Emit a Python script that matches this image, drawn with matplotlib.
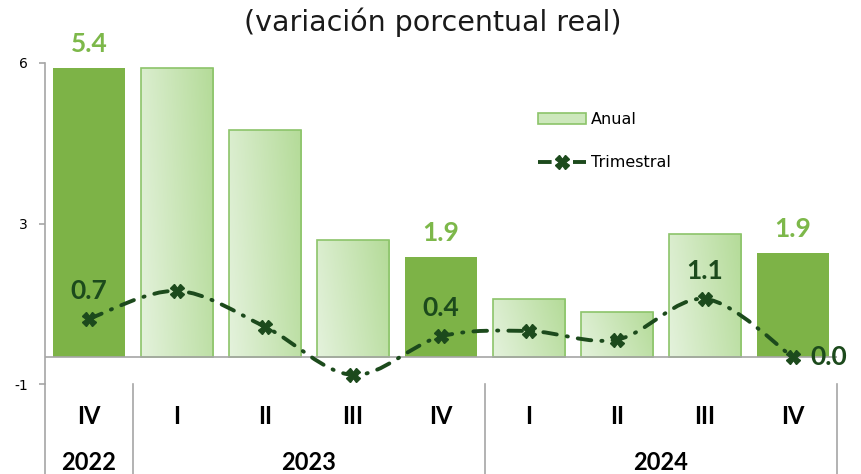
import numpy as np
import matplotlib
matplotlib.use('Agg')
import matplotlib.pyplot as plt
from matplotlib.path import Path
from matplotlib.patches import PathPatch, Patch
from matplotlib.lines import Line2D

plt.rcParams['font.family'] = ['Lato', 'DejaVu Sans']

# datos
trimestres = ['IV', 'I', 'II', 'III', 'IV', 'I', 'II', 'III', 'IV']
anios = ['2022', '2023', '2024']
trim_por_anio = [1, 4, 4]
anual = [5.4, 5.4, 4.24, 2.2, 1.87, 1.09, 0.85, 2.31, 1.94]
trimestral = [0.72, 1.24, 0.57, -0.33, 0.39, 0.49, 0.33, 1.09, 0.0]
destacar = [0, 4, 8]           # barras de color solido con etiqueta
etiq_trim = [0, 4, 7, 8]       # puntos de la linea con etiqueta

verde = '#7DB347'
verde_txt = '#7DB84A'
verde_osc = '#1C4A1C'
borde = '#8CC46A'
gris = '#A6A6A6'
estilo = (0, (3.5, 2.6, 0.3, 2.6))

fig = plt.figure(figsize=(8.62, 4.74), dpi=100)
ax = fig.add_axes([45/862, 1-384/474, 792/862, 321/474])
x = np.arange(len(trimestres))
ancho = 0.82
px = 321 / 6  # pixeles por unidad del eje y

# gradiente para las barras claras
gx, gy = np.meshgrid(np.linspace(0, 1, 64), np.linspace(0, 1, 64))
grad = 0.8*gx + 0.2*gy
cmap = matplotlib.colors.LinearSegmentedColormap.from_list('g', ['#E4F2DC', '#B4DB98'])

barras = ax.bar(x, anual, width=ancho, color=verde, zorder=2)
for i, b in enumerate(barras):
    if i in destacar:
        continue
    b.set_facecolor('none')
    b.set_edgecolor(borde)
    b.set_linewidth(1.2)
    x0 = b.get_x()
    h = b.get_height()
    im = ax.imshow(grad, cmap=cmap, origin='lower', aspect='auto',
                   extent=[x0, x0 + ancho, 0, h], zorder=1.5)
    im.set_clip_path(b)

ax.set_xlim(-0.5, len(trimestres) - 0.5)
ax.set_ylim(-0.5, 5.5)

# linea suavizada (catmull-rom a bezier)
pts = np.column_stack([x, trimestral]).astype(float)
verts = [pts[0]]
codes = [Path.MOVETO]
n = len(pts)
for i in range(n - 1):
    p0 = pts[max(i - 1, 0)]
    p1 = pts[i]
    p2 = pts[i + 1]
    p3 = pts[min(i + 2, n - 1)]
    c1 = p1 + (p2 - p0) / 6
    c2 = p2 - (p3 - p1) / 6
    verts += [c1, c2, p2]
    codes += [Path.CURVE4] * 3
linea = PathPatch(Path(verts, codes), facecolor='none', edgecolor=verde_osc,
                  lw=2.8, linestyle=estilo, capstyle='round', zorder=3)
ax.add_patch(linea)
ax.plot(x, trimestral, ls='none', marker='X', ms=10, color=verde_osc,
        mec=verde_osc, zorder=4)

# etiquetas
for i in destacar:
    ax.text(x[i], anual[i] + 24/px, f'{anual[i]:.1f}', ha='center', va='center',
            fontsize=19, fontweight='bold', color=verde_txt)
for i in etiq_trim:
    if i == len(trimestres) - 1:
        ax.text(x[i] + 0.2, trimestral[i], f'{trimestral[i]:.1f}', ha='left',
                va='center', fontsize=19, fontweight='bold', color=verde_osc)
    else:
        ax.text(x[i], trimestral[i] + 28/px, f'{trimestral[i]:.1f}', ha='center',
                va='center', fontsize=19, fontweight='bold', color=verde_osc)

# ejes
for s in ['top', 'right', 'bottom']:
    ax.spines[s].set_visible(False)
ax.spines['left'].set_color(gris)
ax.spines['left'].set_linewidth(1.2)
ax.axhline(0, color=gris, lw=1.2, zorder=2.5)
ax.set_yticks([-0.5, 2.5, 5.5])
ax.set_yticklabels(['-1', '3', '6'], fontsize=10, family='DejaVu Sans')
ax.tick_params(axis='y', color=gris, length=4.5, width=1.2, pad=8)
ax.set_xticks([])

# eje de categorias en dos niveles
baja = -(474 - 384) / 321
ax.plot([0, 0], [0, baja], transform=ax.transAxes, color=gris, lw=1.2, clip_on=False)
inicio = 0
for anio, k in zip(anios, trim_por_anio):
    fin = inicio + k
    centro = (inicio + fin - 1) / 2
    ax.text(centro, -0.5 - 78/px, anio, ha='center', va='center',
            fontsize=17, fontweight='bold')
    xs = fin / len(trimestres)
    ax.plot([xs, xs], [0, baja], transform=ax.transAxes, color=gris,
            lw=1.2, clip_on=False)
    inicio = fin
for i, q in enumerate(trimestres):
    ax.text(x[i], -0.5 - 33/px, q, ha='center', va='center',
            fontsize=17, fontweight='bold')

# leyenda
h1 = Patch(facecolor='#CDE8BC', edgecolor=borde, lw=1.2)
h2 = Line2D([], [], color=verde_osc, lw=2.8, linestyle=estilo, marker='X', ms=10)
ax.legend([h1, h2], ['Anual', 'Trimestral'], loc='upper left',
          bbox_to_anchor=((532 - 45) / 792, (384 - 106) / 321), frameon=False,
          borderaxespad=0, prop={'family': 'DejaVu Sans', 'size': 11.5},
          labelspacing=1.75, handlelength=3.0, handletextpad=0.3)

fig.text(433/862, 1 - 22/474, '(variación porcentual real)', ha='center',
         va='center', fontsize=20.5, family='DejaVu Sans', color='#1A1A1A')

fig.savefig('out.png', dpi=100)
